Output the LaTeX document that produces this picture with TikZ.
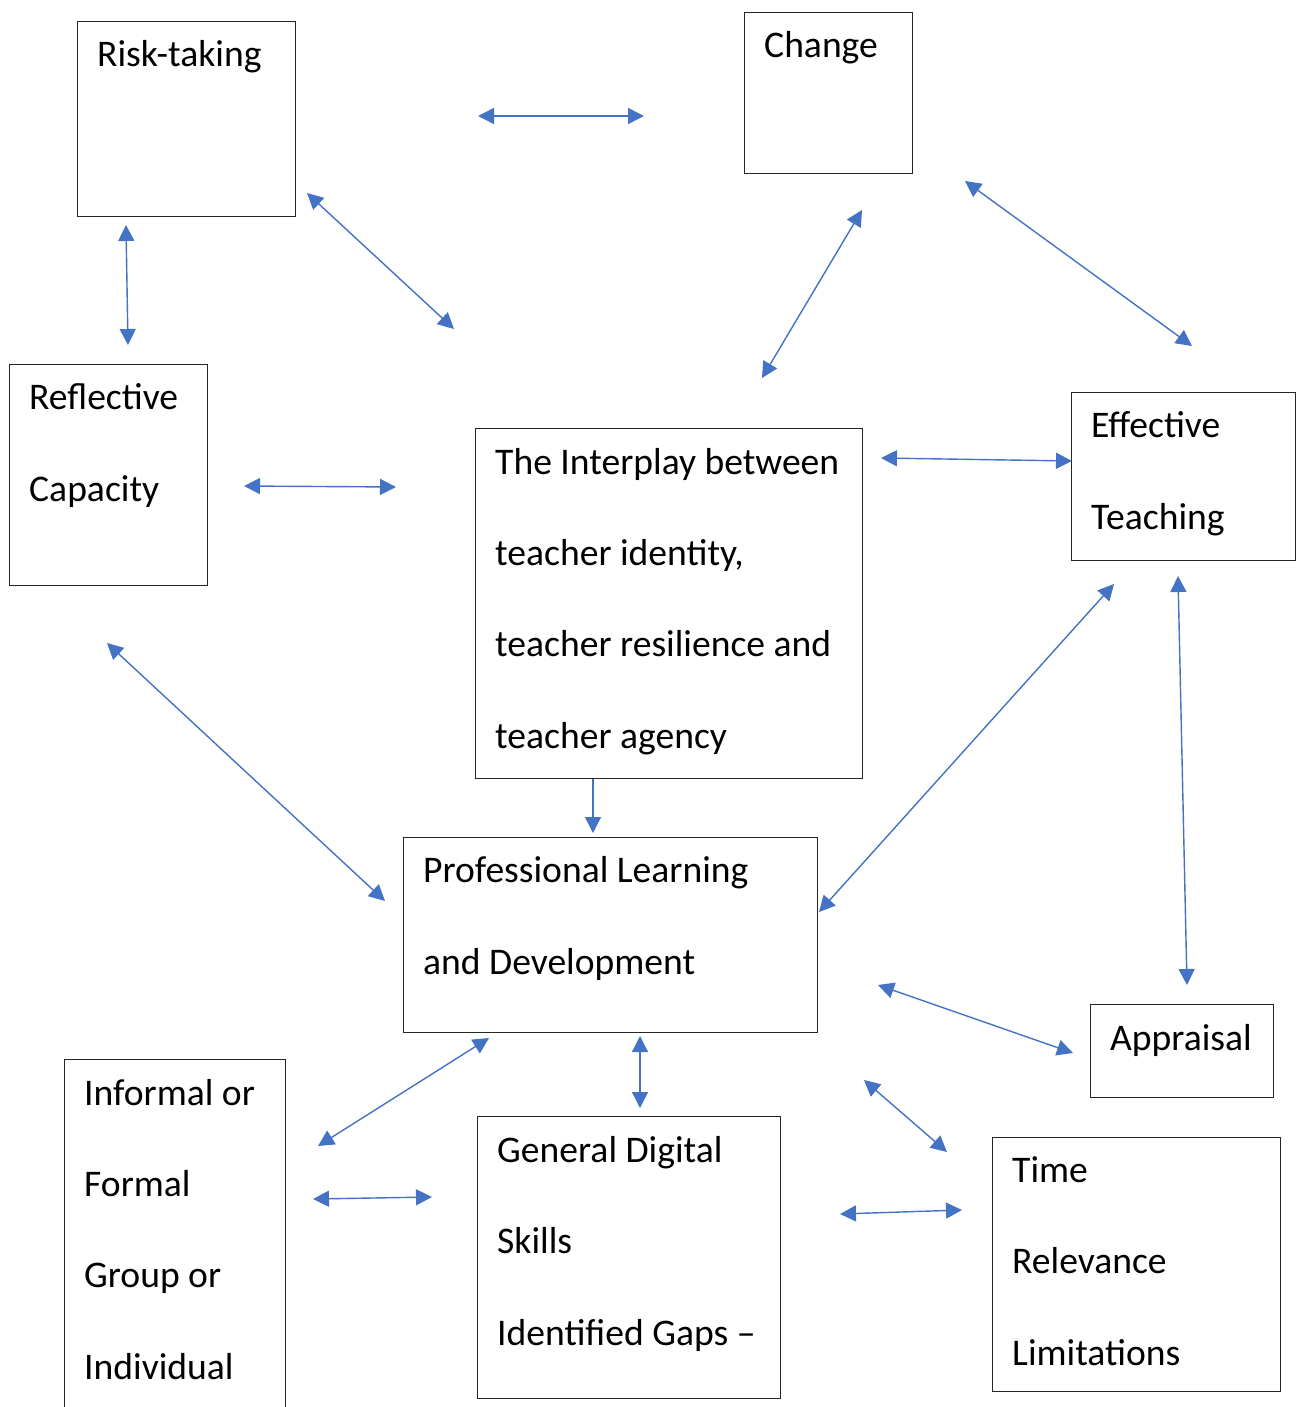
\documentclass[tikz,border=0pt]{standalone}
\usepackage{fontspec}
\setmainfont{Carlito}
\usetikzlibrary{arrows.meta}
\definecolor{linkblue}{HTML}{4472C4}
\begin{document}
\begin{tikzpicture}[x=1pt,y=-1pt,
  box/.style={draw=black!85, line width=1.4pt, inner sep=0pt, anchor=north west},
  % base anchor of a multi-line label sits on its last line
  lbl/.style={anchor=base west, align=left, inner sep=0pt,
    font=\fontsize{37.6}{91.3}\selectfont},
  link/.style={draw=linkblue, line width=1.4pt,
    {Triangle[length=16pt,width=16pt]}-{Triangle[length=16pt,width=16pt]}},
  onelink/.style={draw=linkblue, line width=1.4pt,
    -{Triangle[length=16pt,width=16pt]}}]
\useasboundingbox (0,0) rectangle (1304,1407);
\clip (0,0) rectangle (1304,1407);

% boxes
\node[box, minimum width=218pt, minimum height=195pt] (risk) at (77,21) {};
\node[box, minimum width=168pt, minimum height=161pt] (change) at (744,12) {};
\node[box, minimum width=198pt, minimum height=221pt] (refl) at (9,364) {};
\node[box, minimum width=387pt, minimum height=350pt] (inter) at (475,428) {};
\node[box, minimum width=224pt, minimum height=168pt] (eff) at (1071,392) {};
\node[box, minimum width=414pt, minimum height=195pt] (pld) at (403,837) {};
\node[box, minimum width=183pt, minimum height=93pt] (appr) at (1090,1004) {};
\node[box, minimum width=221pt, minimum height=380pt] (inf) at (64,1059) {};
\node[box, minimum width=303pt, minimum height=282pt] (gds) at (477,1116) {};
\node[box, minimum width=288pt, minimum height=254pt] (time) at (992,1137) {};

% box texts (placed by the baseline of their last line)
\node[lbl] (riskT) at (97,67) {Risk-taking};
\node[lbl] (changeT) at (764,58) {Change};
\node[lbl] (reflT) at (29,501) {Reflective\\Capacity};
\node[lbl] (interT) at (495,748) {The Interplay between\\teacher identity,\\teacher resilience and\\teacher agency};
\node[lbl] (effT) at (1091,529) {Effective\\Teaching};
\node[lbl] (pldT) at (423,974) {Professional Learning\\and Development};
\node[lbl] (apprT) at (1110,1050) {Appraisal};
\node[lbl] (infT) at (84,1379) {Informal or\\Formal\\Group or\\Individual};
\node[lbl] (gdsT) at (497,1345) {General Digital\\Skills\\Identified Gaps --};
\node[lbl] (timeT) at (1012,1365) {Time\\Relevance\\Limitations};

% connector end points
\coordinate (a1) at (478,116);  \coordinate (a2) at (644,116);
\coordinate (b1) at (965,181);  \coordinate (b2) at (1192,346);
\coordinate (c1) at (307,193);  \coordinate (c2) at (454,329);
\coordinate (d1) at (862,210);  \coordinate (d2) at (762,378);
\coordinate (e1) at (126,225);  \coordinate (e2) at (128,345);
\coordinate (f1) at (244,486);  \coordinate (f2) at (396,487);
\coordinate (g1) at (881,458);  \coordinate (g2) at (1072,461);
\coordinate (h1) at (107,643);  \coordinate (h2) at (385,901);
\coordinate (i1) at (1114,584); \coordinate (i2) at (819,912);
\coordinate (j1) at (1178,576); \coordinate (j2) at (1187,985);
\coordinate (k1) at (593,779);  \coordinate (k2) at (593,833);
\coordinate (l1) at (878,985);  \coordinate (l2) at (1073,1053);
\coordinate (m1) at (489,1038); \coordinate (m2) at (318,1146);
\coordinate (n1) at (640,1036); \coordinate (n2) at (640,1108);
\coordinate (o1) at (313,1199); \coordinate (o2) at (432,1197);
\coordinate (p1) at (864,1080); \coordinate (p2) at (947,1152);
\coordinate (q1) at (840,1214); \coordinate (q2) at (962,1210);

% connectors
\foreach \s in {a,b,c,d,e,f,g,h,i,j,l,m,n,o,p,q}
  \draw[link] (\s1) -- (\s2);
\draw[onelink] (k1) -- (k2);
\end{tikzpicture}
\end{document}
